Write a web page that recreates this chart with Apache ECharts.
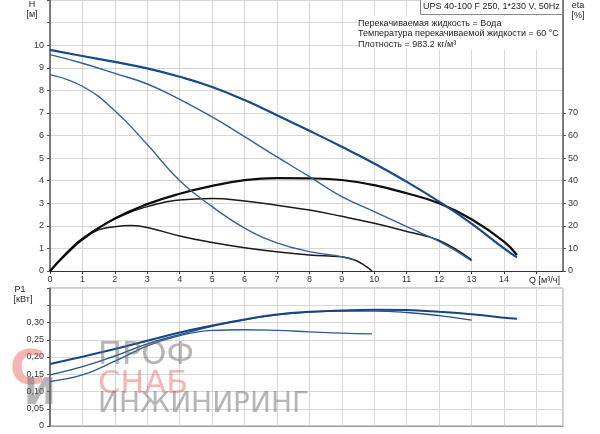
<!DOCTYPE html>
<html><head><meta charset="utf-8">
<script src="https://cdn.jsdelivr.net/npm/echarts@6/dist/echarts.min.js"></script>
<style>html,body{margin:0;padding:0;background:#fff}#c{width:600px;height:434px}</style>
</head><body><div id="c"></div>
<script>
// ---- data ----
const Q_H3 = [0,1,2,3,4,5,6,7,8,9,10,11,12,13,14,14.4];
const H3   = [9.79,9.52,9.26,8.97,8.6,8.15,7.57,6.9,6.21,5.5,4.76,3.95,3.07,2.1,1.0,0.6];
const Q_H2 = [0,1,2,3,4,5,6,7,8,9,10,11,12,13];
const H2   = [9.58,9.2,8.75,8.28,7.6,6.82,5.95,5.05,4.18,3.29,2.63,1.96,1.31,0.45];
const Q_H1 = [0,1,2,3,4,5,6,7,8,9,9.4];
const H1   = [8.7,8.18,7.1,5.6,4.0,2.85,1.9,1.25,0.86,0.63,0.48];

const Q_E3 = [0,0.5,1,2,3,4,5,6,7,8,9,10,11,12,13,14,14.4];
const E3   = [0,7.5,14,23.3,29.6,34.2,37.7,40.2,41.1,41.0,40.3,38,34.4,30,22.9,13,7.1];
const Q_E2 = [0,0.5,1,2,3,4,5,6,7,8,9,10,11,12,13];
const E2   = [0,7.8,14.5,23,28.5,31.4,32.1,31.0,29.1,27,24.2,21.1,17.5,13.5,4.9];
const Q_E1 = [0,0.5,1,1.5,2,2.5,3,4,5,6,7,8,9,9.4,9.7,9.93];
const E1   = [0,8,14.2,18.2,19.6,20.1,19.3,15.5,12.6,10.3,8.5,7.1,6.3,4.9,2.5,0];

const Q_P3 = [0,1,2,3,4,5,6,7,8,9,10,11,12,13,14,14.4];
const P3   = [0.180,0.201,0.223,0.247,0.271,0.291,0.309,0.323,0.331,0.335,0.337,0.336,0.331,0.324,0.314,0.311];
const Q_P2 = [0,1,2,3,4,5,6,7,8,9,10,11,12,13];
const P2   = [0.148,0.172,0.203,0.238,0.265,0.289,0.308,0.322,0.330,0.333,0.333,0.329,0.320,0.307];
const Q_P1 = [0,1,2,3,4,5,6,7,8,9,9.93];
const P1   = [0.129,0.148,0.188,0.232,0.262,0.277,0.279,0.277,0.273,0.269,0.267];

const infoLines = ['Перекачиваемая жидкость = Вода','Температура перекачиваемой жидкости = 60 °C','Плотность = 983.2 кг/м³'];
const titleText = 'UPS 40-100 F 250, 1*230 V, 50Hz';
const etaTicks = [0,10,20,30,40,50,60,70];

// ---- chart ----
const FF = 'Liberation Sans, Arial, sans-serif';
const pairs = (xs, ys) => xs.map((x,i)=>[x, ys[i]]);
const gridLine = {show:true, lineStyle:{color:'#d6d6d6', width:1}};
const lbl = {fontSize:9, color:'#333', fontFamily:FF};

function line(name, xs, ys, xi, yi, color, w){
  return {name, type:'line', xAxisIndex:xi, yAxisIndex:yi, data:pairs(xs,ys), smooth:0.45,
    showSymbol:false, symbol:'none', lineStyle:{color, width:w}, silent:true, animation:false, z:5};
}

const chart = echarts.init(document.getElementById('c'), null, {renderer:'canvas'});
chart.setOption({
  animation:false,
  backgroundColor:'#fff',
  grid:[
    {left:50, right:37, top:0, height:271, show:false},
    {left:50, right:37, top:288, height:138, show:true, borderColor:'#9a9a9a', borderWidth:1, backgroundColor:'transparent'}
  ],
  xAxis:[
    {gridIndex:0, type:'value', min:0, max:15.82, interval:1,
     axisLine:{show:true, onZero:false, lineStyle:{color:'#333', width:1}},
     axisTick:{show:true, length:3, lineStyle:{color:'#333'}},
     axisLabel:Object.assign({margin:4, showMaxLabel:false, formatter:v=> (Number.isInteger(v) && v<=14) ? String(v) : ''}, lbl),
     splitLine:gridLine},
    {gridIndex:1, type:'value', min:0, max:15.82, interval:1,
     axisLine:{show:true, onZero:false, lineStyle:{color:'#9a9a9a'}},
     axisTick:{show:false}, axisLabel:{show:false}, splitLine:gridLine}
  ],
  yAxis:[
    {gridIndex:0, type:'value', min:0, max:12, interval:1,
     axisLine:{show:true, onZero:false, lineStyle:{color:'#555', width:1.5}},
     axisTick:{show:true, length:3, lineStyle:{color:'#555'}},
     axisLabel:Object.assign({margin:6, formatter:v=> v<=10 ? String(v) : ''}, lbl),
     splitLine:gridLine},
    {gridIndex:0, type:'value', position:'right', min:0, max:120, interval:10,
     axisLine:{show:true, onZero:false, lineStyle:{color:'#555', width:1.5}},
     axisTick:{show:true, length:3, customValues:etaTicks, lineStyle:{color:'#555'}},
     axisLabel:Object.assign({margin:5, formatter:v=> v<=70 ? String(v) : ''}, lbl),
     splitLine:{show:false}},
    {gridIndex:1, type:'value', min:0, max:0.4, interval:0.05,
     axisLine:{show:true, onZero:false, lineStyle:{color:'#555', width:1.5}},
     axisTick:{show:true, length:3, lineStyle:{color:'#555'}},
     axisLabel:Object.assign({margin:6, formatter:v=> v===0 ? '0' : (v<=0.3001 ? v.toFixed(2).replace('.',',') : '')}, lbl),
     splitLine:gridLine}
  ],
  series:[
    line('E1', Q_E1, E1, 0, 1, '#1a1a1a', 1.5),
    line('E2', Q_E2, E2, 0, 1, '#1a1a1a', 1.5),
    line('E3', Q_E3, E3, 0, 1, '#0d0d0d', 2.2),
    line('H1', Q_H1, H1, 0, 0, '#2f5f9e', 1.3),
    line('H2', Q_H2, H2, 0, 0, '#2f5f9e', 1.4),
    line('H3', Q_H3, H3, 0, 0, '#184a8a', 2.2),
    line('P1', Q_P1, P1, 1, 2, '#2c5b96', 1.3),
    line('P2', Q_P2, P2, 1, 2, '#24548f', 1.4),
    line('P3', Q_P3, P3, 1, 2, '#18457f', 2)
  ],
  graphic:[
    // info block with white background
    {type:'rect', z:100, shape:{x:357, y:16, width:205, height:33}, style:{fill:'#fff'}},
    {type:'text', z:101, left:358, top:19, style:{text:infoLines[0], font:'9px '+FF, fill:'#222'}},
    {type:'text', z:101, left:358, top:29.5, style:{text:infoLines[1], font:'9px '+FF, fill:'#222'}},
    {type:'text', z:101, left:358, top:40, style:{text:infoLines[2], font:'9px '+FF, fill:'#222'}},
    // title box
    {type:'rect', z:100, shape:{x:420.5, y:-1, width:142, height:15.5}, style:{fill:'#fff', stroke:'#8a8a8a', lineWidth:1}},
    {type:'text', z:101, left:423, top:2, style:{text:titleText, font:'9px '+FF, fill:'#222'}},
    // axis names
    {type:'text', z:101, x:32, y:5, style:{text:'H', font:'9px '+FF, fill:'#222', align:'center', verticalAlign:'middle'}},
    {type:'text', z:101, x:32, y:15, style:{text:'[м]', font:'9px '+FF, fill:'#222', align:'center', verticalAlign:'middle'}},
    {type:'text', z:101, x:578, y:6, style:{text:'eta', font:'9px '+FF, fill:'#222', align:'center', verticalAlign:'middle'}},
    {type:'text', z:101, x:578, y:16, style:{text:'[%]', font:'9px '+FF, fill:'#222', align:'center', verticalAlign:'middle'}},
    {type:'text', z:101, x:529, y:281, style:{text:'Q [м³/ч]', font:'9px '+FF, fill:'#222', align:'left', verticalAlign:'middle'}},
    {type:'text', z:101, x:20, y:290, style:{text:'P1', font:'9px '+FF, fill:'#222', align:'center', verticalAlign:'middle'}},
    {type:'text', z:101, x:23, y:300, style:{text:'[кВт]', font:'9px '+FF, fill:'#222', align:'center', verticalAlign:'middle'}},
    // watermark
    {type:'text', z:50, x:10, y:372, style:{text:'С', font:'bold 48px DejaVu Sans', fill:'rgba(235,90,90,0.45)', align:'left', verticalAlign:'middle'}},
    {type:'text', z:50, x:24, y:394, style:{text:'И', font:'bold 38px DejaVu Sans', fill:'rgba(110,110,110,0.5)', align:'left', verticalAlign:'middle'}},
    {type:'text', z:50, x:98, y:356, style:{text:'ПРОФ', font:'32px DejaVu Sans', fill:'rgba(110,110,110,0.5)', align:'left', verticalAlign:'middle'}},
    {type:'text', z:50, x:98, y:385, style:{text:'СНАБ', font:'32px DejaVu Sans', fill:'rgba(235,90,90,0.45)', align:'left', verticalAlign:'middle'}},
    {type:'text', z:50, x:98, y:405, style:{text:'ИНЖИНИРИНГ', font:'28px DejaVu Sans', fill:'rgba(110,110,110,0.5)', align:'left', verticalAlign:'middle'}}
  ]
});
</script></body></html>
